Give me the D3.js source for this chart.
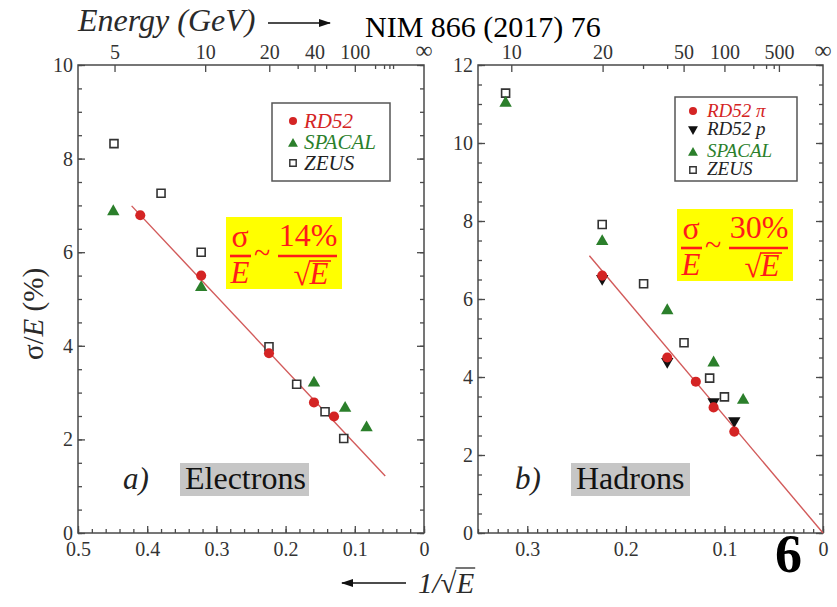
<!DOCTYPE html>
<html>
<head>
<meta charset="utf-8">
<script src="https://cdn.jsdelivr.net/npm/d3@7"></script>
<style>
  body { margin: 0; background: #fff; }
  svg { display: block; }
  svg text { font-family: "Liberation Serif", "DejaVu Serif", serif; }
</style>
</head>
<body>
<svg id="chart" width="837" height="607"></svg>
<script>
// ---- data: x = 1/sqrt(E [GeV]), y = sigma/E in percent ----
// a) Electrons
const elRD52   = [[0.410, 6.79], [0.322, 5.50], [0.224, 3.84], [0.159, 2.79], [0.130, 2.49]];
const elSPACAL = [[0.449, 6.89], [0.322, 5.27], [0.159, 3.23], [0.114, 2.69], [0.083, 2.27]];
const elZEUS   = [[0.448, 8.32], [0.380, 7.26], [0.322, 6.00], [0.224, 3.98], [0.184, 3.18], [0.143, 2.59], [0.116, 2.02]];
const elFit    = [[0.4225, 6.99], [0.056, 1.22]];

// b) Hadrons
const hdRD52pi = [[0.224, 6.60], [0.158, 4.50], [0.129, 3.88], [0.111, 3.22], [0.090, 2.60]];
const hdRD52p  = [[0.224, 6.50], [0.158, 4.37], [0.111, 3.34], [0.090, 2.85]];
const hdSPACAL = [[0.322, 11.05], [0.224, 7.50], [0.158, 5.73], [0.111, 4.39], [0.081, 3.43]];
const hdZEUS   = [[0.322, 11.28], [0.224, 7.91], [0.182, 6.39], [0.141, 4.88], [0.115, 3.97], [0.100, 3.49]];
const hdFit    = [[0.237, 7.11], [0, 0]];

// axis ticks
const elXMajor = [0.5, 0.4, 0.3, 0.2, 0.1, 0];
const hdXMajor = [0.3, 0.2, 0.1, 0];
const elYMajor = [0, 2, 4, 6, 8, 10];
const hdYMajor = [0, 2, 4, 6, 8, 10, 12];
const elEnergyLabels = [5, 10, 20, 40, 100];
const elEnergyMinor  = [30, 50, 200, 300, 400, 500];
const hdEnergyLabels = [10, 20, 50, 100, 500];
const hdEnergyMinor  = [30, 40, 200, 300, 400];

// ---- styles ----
const SERIF = "'Liberation Serif', 'DejaVu Serif', serif";
const RED = "#d42424", GREEN = "#2b7f2b", DARK = "#222", AXIS = "#4a4a4a", FIT = "#d25a5a";

const svg = d3.select("#chart").attr("font-family", SERIF);

const defs = svg.append("defs");
defs.append("marker").attr("id", "arrowhead")
  .attr("viewBox", "0 0 12 8").attr("refX", 11).attr("refY", 4)
  .attr("markerWidth", 12).attr("markerHeight", 8).attr("markerUnits", "userSpaceOnUse")
  .attr("orient", "auto")
  .append("path").attr("d", "M0,0 L12,4 L0,8 Z").attr("fill", "#111");

function range(a, b, step) {
  const out = [];
  const n = Math.round((b - a) / step);
  for (let i = 0; i <= n; i++) out.push(+(a + i * step).toFixed(4));
  return out;
}

function drawPanel(cfg) {
  const g = svg.append("g");
  const x = d3.scaleLinear().domain(cfg.xDomain).range([cfg.left, cfg.right]);
  const y = d3.scaleLinear().domain(cfg.yDomain).range([cfg.bottom, cfg.top]);
  // energy scale: position depends linearly on E^(-1/2)
  const eScale = d3.scalePow().exponent(-0.5).domain([4, 100])
    .range([x(0.5), x(0.1)]);

  const styleAxis = sel => {
    sel.attr("font-family", SERIF);
    sel.select(".domain").remove();
    sel.selectAll(".tick line").attr("stroke", AXIS).attr("stroke-width", 1.3);
    sel.selectAll(".tick text").attr("fill", "#333").attr("font-size", 20);
  };

  // bottom: minor then major
  g.append("g").attr("transform", `translate(0,${cfg.bottom})`)
    .call(d3.axisBottom(x).tickValues(cfg.xMinor).tickSizeInner(-4).tickSizeOuter(0).tickFormat(""))
    .call(styleAxis);
  g.append("g").attr("transform", `translate(0,${cfg.bottom})`)
    .call(d3.axisBottom(x).tickValues(cfg.xMajor).tickSizeInner(-7).tickSizeOuter(0).tickPadding(9)
      .tickFormat(d => d === 0 ? "0" : d3.format(".1f")(d)))
    .call(styleAxis);

  // left + right
  const yMinor = range(cfg.yDomain[0], cfg.yDomain[1], 0.5);
  g.append("g").attr("transform", `translate(${cfg.left},0)`)
    .call(d3.axisLeft(y).tickValues(yMinor).tickSizeInner(-4).tickSizeOuter(0).tickFormat(""))
    .call(styleAxis);
  g.append("g").attr("transform", `translate(${cfg.left},0)`)
    .call(d3.axisLeft(y).tickValues(cfg.yMajor).tickSizeInner(-7).tickSizeOuter(0).tickPadding(5))
    .call(styleAxis);
  g.append("g").attr("transform", `translate(${cfg.right},0)`)
    .call(d3.axisRight(y).tickValues(yMinor).tickSizeInner(-4).tickSizeOuter(0).tickFormat(""))
    .call(styleAxis);
  g.append("g").attr("transform", `translate(${cfg.right},0)`)
    .call(d3.axisRight(y).tickValues(cfg.yMajor).tickSizeInner(-7).tickSizeOuter(0).tickFormat(""))
    .call(styleAxis);

  // top: energy
  g.append("g").attr("transform", `translate(0,${cfg.top})`)
    .call(d3.axisTop(eScale).tickValues(cfg.eMinor).tickSizeInner(-4).tickSizeOuter(0).tickFormat(""))
    .call(styleAxis);
  g.append("g").attr("transform", `translate(0,${cfg.top})`)
    .call(d3.axisTop(eScale).tickValues(cfg.eLabels).tickSizeInner(-7).tickSizeOuter(0).tickPadding(6)
      .tickFormat(d3.format("d")))
    .call(styleAxis);
  g.append("text").attr("x", x(0)).attr("y", cfg.top - 7).attr("text-anchor", "middle")
    .attr("font-size", 24).attr("fill", "#333").text("\u221E");

  // frame
  g.append("rect").attr("x", cfg.left).attr("y", cfg.top)
    .attr("width", cfg.right - cfg.left).attr("height", cfg.bottom - cfg.top)
    .attr("fill", "none").attr("stroke", AXIS).attr("stroke-width", 1.5);

  // fit line
  g.append("line")
    .attr("x1", x(cfg.fit[0][0])).attr("y1", y(cfg.fit[0][1]))
    .attr("x2", x(cfg.fit[1][0])).attr("y2", y(cfg.fit[1][1]))
    .attr("stroke", FIT).attr("stroke-width", 1.4);

  // series
  cfg.series.forEach(s => {
    g.append("g").selectAll("path").data(s.data).join("path")
      .attr("transform", d => `translate(${x(d[0])},${y(d[1])})`)
      .attr("d", s.shape)
      .attr("fill", s.fill).attr("stroke", s.stroke || "none").attr("stroke-width", s.sw || 0);
  });

  return { g, x, y };
}

// marker shapes
const circleShape = d3.symbol(d3.symbolCircle, 80)();
const triUp = "M0,-6.2 L6.2,4.6 L-6.2,4.6 Z";
const triDown = "M0,6.2 L6.2,-4.6 L-6.2,-4.6 Z";
const squareShape = "M-4,-4 H4 V4 H-4 Z";

const ZEUS = { shape: squareShape, fill: "#fff", stroke: "#333", sw: 1.6 };
const SPAC = { shape: triUp, fill: GREEN };
const RDC  = { shape: circleShape, fill: RED };
const RDP  = { shape: triDown, fill: "#111" };

drawPanel({
  left: 78, right: 424, top: 65, bottom: 533,
  xDomain: [0.5, 0], yDomain: [0, 10],
  xMajor: elXMajor, xMinor: range(0, 0.5, 0.02),
  yMajor: elYMajor,
  eLabels: elEnergyLabels, eMinor: elEnergyMinor,
  fit: elFit,
  series: [
    Object.assign({ data: elZEUS }, ZEUS),
    Object.assign({ data: elSPACAL }, SPAC),
    Object.assign({ data: elRD52 }, RDC)
  ]
});

drawPanel({
  left: 478, right: 823, top: 65, bottom: 533,
  xDomain: [0.35, 0], yDomain: [0, 12],
  xMajor: hdXMajor, xMinor: range(0, 0.35, 0.01),
  yMajor: hdYMajor,
  eLabels: hdEnergyLabels, eMinor: hdEnergyMinor,
  fit: hdFit,
  series: [
    Object.assign({ data: hdZEUS }, ZEUS),
    Object.assign({ data: hdSPACAL }, SPAC),
    Object.assign({ data: hdRD52p }, RDP),
    Object.assign({ data: hdRD52pi }, RDC)
  ]
});

// ---- legends ----
function legend(x0, y0, w, h, rows) {
  const g = svg.append("g");
  g.append("rect").attr("x", x0).attr("y", y0).attr("width", w).attr("height", h)
    .attr("fill", "#fff").attr("stroke", "#555").attr("stroke-width", 1.5);
  rows.forEach(r => {
    g.append("path").attr("transform", `translate(${r.mx},${r.my}) scale(${r.scale || 0.8})`)
      .attr("d", r.shape).attr("fill", r.fill).attr("stroke", r.stroke || "none").attr("stroke-width", r.sw || 0);
    g.append("text").attr("x", r.tx).attr("y", r.ty).attr("font-size", r.fs || 21)
      .attr("font-style", "italic").attr("fill", r.color).text(r.label);
  });
}
legend(272, 103, 118, 78, [
  { label: "RD52",   color: RED,   mx: 293, my: 121, tx: 304, ty: 128, ...RDC },
  { label: "SPACAL", color: GREEN, mx: 293, my: 143, tx: 304, ty: 149, ...SPAC },
  { label: "ZEUS",   color: DARK,  mx: 293, my: 163, tx: 304, ty: 170, ...ZEUS, sw: 1.8 }
]);
legend(675, 97, 122, 84, [
  { label: "RD52 \u03C0", color: RED,   mx: 693, my: 111, tx: 707, ty: 117, fs: 19, ...RDC },
  { label: "RD52 p",      color: DARK,  mx: 693, my: 130, tx: 707, ty: 135, fs: 19, ...RDP },
  { label: "SPACAL",      color: GREEN, mx: 693, my: 152, tx: 707, ty: 157, fs: 19, ...SPAC },
  { label: "ZEUS",        color: DARK,  mx: 693, my: 170, tx: 707, ty: 175, fs: 19, ...ZEUS, sw: 1.8 }
]);

// ---- resolution formulas ----
function formula(x0, y0, pct) {
  const g = svg.append("g").attr("transform", `translate(${x0},${y0})`);
  const FR = "#ff1a1a";
  g.append("rect").attr("width", 116).attr("height", 72).attr("fill", "#ffff00");
  g.append("text").attr("x", 14).attr("y", 30).attr("text-anchor", "middle")
    .attr("font-size", 32).attr("fill", FR).text("\u03C3");
  g.append("line").attr("x1", 4).attr("x2", 25).attr("y1", 39).attr("y2", 39)
    .attr("stroke", FR).attr("stroke-width", 2.6);
  g.append("text").attr("x", 14).attr("y", 66).attr("text-anchor", "middle")
    .attr("font-size", 31).attr("font-style", "italic").attr("fill", FR).text("E");
  g.append("text").attr("x", 36).attr("y", 46).attr("text-anchor", "middle")
    .attr("font-size", 30).attr("fill", FR).text("~");
  g.append("text").attr("x", 82).attr("y", 29).attr("text-anchor", "middle")
    .attr("font-size", 32).attr("fill", FR).text(pct);
  g.append("line").attr("x1", 52).attr("x2", 111).attr("y1", 39).attr("y2", 39)
    .attr("stroke", FR).attr("stroke-width", 2.6);
  g.append("text").attr("x", 76).attr("y", 68).attr("text-anchor", "middle")
    .attr("font-size", 31).attr("fill", FR).text("\u221A");
  g.append("text").attr("x", 93).attr("y", 67).attr("text-anchor", "middle")
    .attr("font-size", 31).attr("font-style", "italic").attr("fill", FR).text("E");
  g.append("line").attr("x1", 83).attr("x2", 105).attr("y1", 44).attr("y2", 44)
    .attr("stroke", FR).attr("stroke-width", 1.6);
}
formula(226, 217, "14%");
formula(677, 209, "30%");

// ---- panel tags ----
function tag(xa, xBox, wBox, letter, word) {
  svg.append("text").attr("x", xa).attr("y", 489).attr("font-size", 31)
    .attr("font-style", "italic").attr("fill", "#222").text(letter);
  svg.append("rect").attr("x", xBox).attr("y", 463).attr("width", wBox).attr("height", 33)
    .attr("fill", "#c6c6c6");
  svg.append("text").attr("x", xBox + 5).attr("y", 489).attr("font-size", 32)
    .attr("fill", "#111").text(word);
}
tag(123, 180, 129, "a)", "Electrons");
tag(515, 571, 119, "b)", "Hadrons");

// ---- titles ----
svg.append("text").attr("x", 78).attr("y", 31).attr("font-size", 32)
  .attr("font-style", "italic").attr("fill", "#2a2a2a").text("Energy (GeV)");
svg.append("line").attr("x1", 268).attr("x2", 330).attr("y1", 23).attr("y2", 23)
  .attr("stroke", "#111").attr("stroke-width", 1.6).attr("marker-end", "url(#arrowhead)");
svg.append("text").attr("x", 365).attr("y", 37).attr("font-size", 30)
  .attr("fill", "#000").text("NIM 866 (2017) 76");

// y title
const yt = svg.append("text").attr("transform", "translate(43,314) rotate(-90)")
  .attr("text-anchor", "middle").attr("font-size", 29).attr("fill", "#2a2a2a");
yt.append("tspan").text("\u03C3/");
yt.append("tspan").attr("font-style", "italic").text("E");
yt.append("tspan").text(" (%)");

// x title: arrow + 1/sqrt(E)
svg.append("line").attr("x1", 406).attr("x2", 342).attr("y1", 583).attr("y2", 583)
  .attr("stroke", "#111").attr("stroke-width", 1.6).attr("marker-end", "url(#arrowhead)");
const xt = svg.append("text").attr("x", 418).attr("y", 593).attr("font-size", 29)
  .attr("font-style", "italic").attr("fill", "#2a2a2a").text("1/\u221A");
const xtw = xt.node().getComputedTextLength();
const xE = svg.append("text").attr("x", 418 + xtw).attr("y", 593).attr("font-size", 29)
  .attr("font-style", "italic").attr("fill", "#2a2a2a").text("E");
const eW = xE.node().getComputedTextLength();
svg.append("line").attr("x1", 418 + xtw - 1).attr("x2", 418 + xtw + eW + 1)
  .attr("y1", 568).attr("y2", 568).attr("stroke", "#2a2a2a").attr("stroke-width", 1.3);

// page number
svg.append("text").attr("x", 775).attr("y", 572).attr("font-size", 54)
  .attr("font-weight", "bold").attr("fill", "#000").text("6");
</script>
</body>
</html>
